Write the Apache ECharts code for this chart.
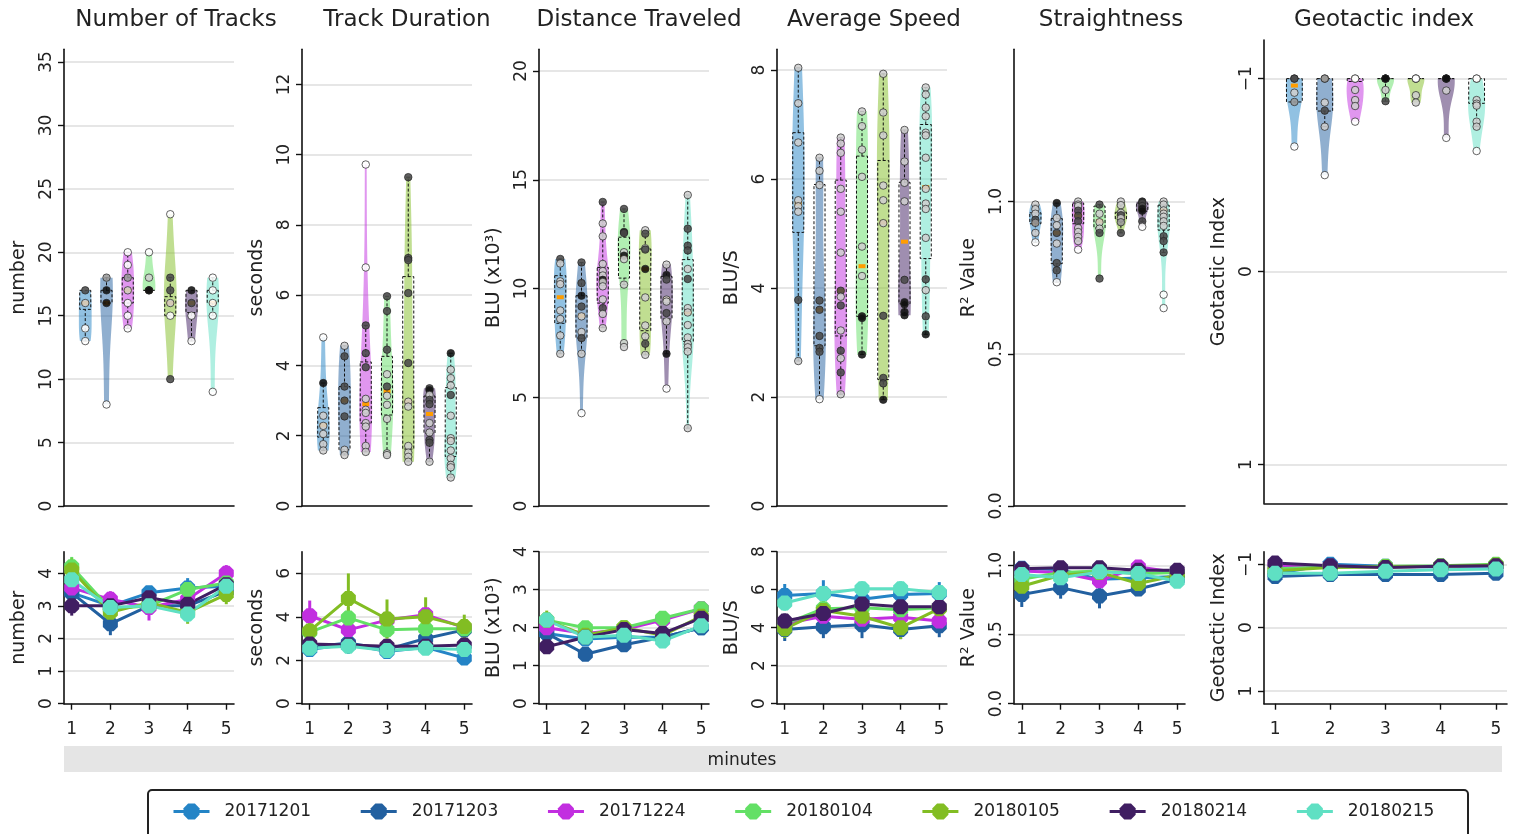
<!DOCTYPE html>
<html><head><meta charset="utf-8">
<script src="https://cdn.jsdelivr.net/npm/echarts@6/dist/echarts.min.js"></script>
<style>html,body{margin:0;padding:0;background:#fff}#c{width:1517px;height:834px}</style>
</head><body><div id="c"></div><script>
// ---------- categories / labels ----------
const groups = ['20171201','20171203','20171224','20180104','20180105','20180214','20180215'];
const colors = ['#2484c6','#2260a0','#c22ee0','#63e065','#82bd23','#401e62','#5fe0c3'];
const minutes = [1,2,3,4,5];
const titles = ['Number of Tracks','Track Duration','Distance Traveled','Average Speed','Straightness','Geotactic index'];
const yNames = ['number','seconds','BLU (x10\u00b3)','BLU/S','R\u00b2 Value','Geotactic Index'];
const shadeColors = ['#ffffff','#cfcfcf','#9a9a9a','#4a4a4a','#111111'];

// tick labels
const tracksTicks = [0,5,10,15,20,25,30,35];
const durationTicks = [0,2,4,6,8,10,12];
const distanceTicks = [0,5,10,15,20];
const speedTicks = [0,2,4,6,8];
const straightTicks = [0,0.5,1.0];
const geoTicks = [-1,0,1];
const tracksMinTicks = [0,1,2,3,4];
const durationMinTicks = [0,2,4,6];
const distanceMinTicks = [0,1,2,3,4];
const speedMinTicks = [0,2,4,6,8];

// ---------- top row: per-group points [value, shade] ----------
const tracksPts = [
 [[17,3],[16,1],[14,0],[13,0]],
 [[18,2],[17,4],[16,4],[8,0]],
 [[20,0],[19,0],[18,2],[17,1],[16,0],[15,0],[14,0]],
 [[20,0],[18,1],[17,4],[17,4]],
 [[23,0],[18,3],[17,3],[16,1],[15,0],[10,3]],
 [[17,4],[16,3],[15,0],[13,0]],
 [[18,0],[17,0],[16,0],[15,0],[9,0]]];
const durationPts = [
 [[4.8,0],[3.5,4],[2.57,1],[2.28,1],[2.05,1],[1.76,1],[1.58,1]],
 [[4.56,1],[4.26,3],[3.4,3],[3.0,3],[2.55,3],[1.6,1],[1.45,1]],
 [[9.72,0],[6.79,0],[5.14,3],[4.35,3],[3.95,3],[3.05,1],[2.74,1],[2.65,1],[2.36,1],[2.26,1],[1.71,1],[1.54,1]],
 [[5.97,3],[5.55,3],[4.45,3],[3.75,1],[3.4,3],[3.14,1],[2.88,1],[2.48,1],[1.5,1],[1.45,1]],
 [[9.36,3],[7.06,3],[7.0,3],[6.06,3],[4.07,3],[2.97,1],[2.83,1],[1.71,1],[1.52,1],[1.4,1],[1.26,1]],
 [[3.35,3],[3.3,4],[3.16,1],[3.02,3],[2.9,3],[2.36,1],[2.09,1],[1.88,3],[1.8,3],[1.26,1]],
 [[4.35,4],[3.88,1],[3.64,1],[3.43,1],[3.16,3],[2.57,1],[1.93,1],[1.85,1],[1.58,1],[1.36,1],[1.17,1],[1.1,1],[0.81,1]]];
const distancePts = [
 [[11.36,3],[11.15,1],[10.33,1],[10.2,1],[8.99,1],[8.6,1],[7.84,1],[7.0,1]],
 [[11.2,3],[10.25,3],[9.67,4],[9.17,3],[8.72,1],[8.0,1],[7.72,3],[7.0,1],[4.27,0]],
 [[13.98,3],[12.99,1],[12.4,1],[11.13,1],[10.8,1],[10.6,1],[10.4,4],[10.3,1],[10.1,1],[9.5,1],[9.1,3],[8.83,1],[8.18,1]],
 [[13.66,3],[12.6,4],[12.55,3],[11.67,1],[11.51,4],[11.35,1],[10.18,1],[7.49,1],[7.31,1]],
 [[12.68,1],[12.52,3],[11.85,1],[11.79,3],[10.9,4],[9.59,1],[8.3,1],[7.8,1],[7.46,3],[6.95,1]],
 [[11.1,1],[10.62,4],[10.41,3],[9.49,1],[9.4,1],[8.87,3],[8.49,1],[7.0,4],[5.4,0]],
 [[14.3,1],[12.75,3],[11.97,3],[11.75,3],[10.9,1],[10.44,3],[9.1,1],[8.9,1],[8.32,1],[7.75,1],[7.45,1],[7.3,1],[7.1,1],[3.58,1]]];
const speedPts = [
 [[8.04,1],[7.39,1],[6.67,1],[5.61,1],[5.5,1],[5.4,1],[3.78,3],[2.66,1]],
 [[6.39,1],[6.15,1],[5.89,1],[3.77,3],[3.6,3],[3.12,3],[2.9,3],[2.83,3],[1.96,0]],
 [[6.76,1],[6.65,1],[6.48,1],[5.82,1],[5.4,1],[4.65,1],[3.95,3],[3.84,1],[3.68,3],[3.22,1],[2.85,3],[2.71,1],[2.45,3],[2.05,1]],
 [[7.24,1],[6.97,1],[6.54,1],[6.04,1],[4.76,1],[4.22,1],[3.48,4],[3.45,4],[2.78,4]],
 [[7.93,1],[7.22,1],[6.8,1],[5.88,1],[5.61,1],[5.19,1],[3.49,3],[2.35,3],[2.25,3],[1.95,4]],
 [[6.9,1],[6.32,1],[5.93,1],[5.59,1],[4.15,3],[3.74,4],[3.7,4],[3.56,4],[3.5,4]],
 [[7.68,1],[7.55,1],[7.31,1],[7.15,1],[6.85,1],[6.8,1],[6.39,1],[5.82,1],[5.55,1],[5.45,1],[4.92,1],[4.16,3],[3.96,1],[3.48,3],[3.15,4]]];
const straightPts = [
 [[0.99,1],[0.975,1],[0.96,1],[0.94,3],[0.93,2],[0.897,1],[0.866,0]],
 [[0.995,4],[0.946,1],[0.922,1],[0.897,3],[0.862,1],[0.798,3],[0.774,3],[0.735,0]],
 [[1.0,1],[0.99,1],[0.985,1],[0.97,3],[0.953,3],[0.935,3],[0.913,1],[0.9,1],[0.884,1],[0.87,1],[0.842,0]],
 [[0.99,3],[0.96,1],[0.932,1],[0.911,1],[0.897,3],[0.747,3]],
 [[1.0,1],[0.988,1],[0.963,1],[0.955,3],[0.945,1],[0.932,2],[0.897,3]],
 [[1.0,4],[0.995,3],[0.985,3],[0.976,4],[0.97,4],[0.935,3],[0.917,0]],
 [[1.0,1],[0.99,1],[0.971,1],[0.96,1],[0.95,1],[0.935,1],[0.92,1],[0.886,3],[0.87,3],[0.833,3],[0.694,0],[0.65,0]]];
const geoPts = [
 [[-1,3],[-1,3],[-0.927,1],[-0.879,2],[-0.648,0]],
 [[-1,2],[-1,2],[-0.876,1],[-0.834,3],[-0.751,1],[-0.5,0]],
 [[-1,0],[-1,0],[-0.941,1],[-0.889,1],[-0.858,1],[-0.777,0]],
 [[-1,4],[-1,4],[-1,4],[-0.941,1],[-0.883,3]],
 [[-1,0],[-1,0],[-1,0],[-0.914,1],[-0.876,1]],
 [[-1,4],[-1,4],[-1,4],[-0.938,1],[-0.693,0]],
 [[-1,0],[-1,0],[-0.889,1],[-0.87,1],[-0.86,1],[-0.777,1],[-0.751,1],[-0.625,0]]];

// box stats [lower whisker, Q1, Q3, upper whisker] and means
const tracksBox = [[13,15.5,17,17],[16,16,17,18],[14,16,18,20],[17,17,17,17],[15,15,16.5,18],[13,15.25,17,17],[15,16,17,18]];
const durationBox = [[1.58,1.96,2.8,3.5],[1.45,1.6,3.4,4.56],[1.54,2.36,4.1,5.14],[1.45,2.59,4.26,5.97],[1.26,1.62,6.53,9.36],[1.26,2.07,3.13,3.35],[0.81,1.41,3.37,4.35]];
const distanceBox = [[7.0,8.4,10.59,11.36],[7.0,7.72,9.67,11.2],[8.2,9.33,10.97,13.98],[10.18,10.48,12.36,13.66],[6.95,8.06,11.82,12.68],[7.0,8.6,10.56,11.1],[3.58,7.57,11.33,14.3]];
const speedBox = [[2.66,5.02,6.85,8.04],[1.96,2.94,5.9,6.39],[2.05,3.12,5.98,6.76],[2.78,3.48,6.42,7.24],[1.95,2.32,6.34,7.93],[3.5,3.71,5.94,6.9],[3.15,4.54,7.0,7.68]];
const straightBox = [[0.866,0.927,0.963,0.99],[0.735,0.796,0.944,0.995],[0.87,0.927,0.995,1.0],[0.897,0.913,0.985,0.99],[0.897,0.941,0.965,1.0],[0.935,0.968,0.995,1.0],[0.833,0.906,0.988,1.0]];
const geoBox = [[-1,-1,-0.879,-0.879],[-1,-1,-0.832,-0.751],[-1,-1,-0.985,-0.985],[-1,-1,-1,-0.883],[-1,-1,-1,-1],[-1,-1,-1,-1],[-1,-1,-0.872,-0.751]];
const tracksMean = [16,16,17,17,16,16,16];
const durationMean = [2.3,3.0,2.9,3.27,2.97,2.62,1.9];
const distanceMean = [9.6,8.75,10.4,11.45,10.9,9.5,8.9];
const speedMean = [5.55,3.6,3.95,4.4,5.2,4.85,5.85];
const straightMean = [0.93,0.897,0.955,0.935,0.95,0.975,0.971];
const geoMean = [-0.964,-1,-1,-1,-1,-1,-1];

// ---------- bottom row: per-minute means and error (one row per group) ----------
const tracksMin = [[3.4,3.0,3.4,3.55,3.6],[3.4,2.45,3.0,3.0,3.45],[3.55,3.2,2.95,3.2,4.0],[4.2,2.9,3.0,3.5,3.7],[4.1,2.8,3.1,2.8,3.35],[3.0,3.0,3.25,3.05,3.65],[3.8,2.95,3.0,2.75,3.6]];
const tracksErr = [[0.25,0.25,0.2,0.3,0.25],[0.3,0.35,0.25,0.25,0.3],[0.3,0.25,0.4,0.3,0.25],[0.3,0.25,0.25,0.25,0.25],[0.35,0.3,0.3,0.35,0.3],[0.3,0.25,0.25,0.25,0.3],[0.25,0.25,0.25,0.25,0.25]];
const durationMin = [[2.5,2.75,2.4,2.6,2.1],[2.6,2.8,2.5,3.0,3.4],[4.05,3.4,3.85,4.1,3.5],[3.3,3.95,3.4,3.45,3.45],[3.35,4.85,3.9,4.0,3.55],[2.75,2.7,2.65,2.65,2.7],[2.55,2.65,2.45,2.55,2.5]];
const durationErr = [[0.3,0.3,0.3,0.3,0.2],[0.4,0.5,0.4,0.4,0.4],[0.7,0.4,0.4,0.3,0.3],[0.4,0.5,0.4,0.4,0.3],[0.4,1.15,0.9,0.9,0.55],[0.3,0.3,0.3,0.3,0.3],[0.3,0.3,0.3,0.3,0.3]];
const distanceMin = [[1.85,1.7,1.75,1.75,2.0],[1.85,1.3,1.55,1.75,2.0],[2.0,1.85,1.95,2.2,2.5],[2.2,2.0,2.0,2.25,2.5],[2.2,1.8,2.0,1.8,2.3],[1.5,1.75,1.95,1.85,2.25],[2.2,1.75,1.8,1.65,2.05]];
const distanceErr = [[0.15,0.15,0.15,0.15,0.15],[0.15,0.15,0.12,0.15,0.15],[0.15,0.12,0.12,0.12,0.15],[0.15,0.12,0.12,0.12,0.15],[0.25,0.15,0.15,0.15,0.15],[0.15,0.15,0.15,0.15,0.15],[0.15,0.12,0.12,0.12,0.15]];
const speedMin = [[5.7,5.8,5.5,5.75,5.8],[3.9,4.05,4.15,3.9,4.1],[4.2,4.6,4.45,4.55,4.35],[4.2,5.0,5.05,4.95,5.05],[3.95,4.9,4.6,4.0,5.0],[4.35,4.75,5.25,5.1,5.1],[5.3,5.8,6.05,6.05,5.85]];
const speedErr = [[0.6,0.7,0.5,0.5,0.6],[0.6,0.6,0.7,0.5,0.6],[0.4,0.4,0.4,0.4,0.4],[0.4,0.4,0.4,0.4,0.4],[0.5,0.4,0.4,0.6,0.4],[0.4,0.4,0.4,0.4,0.4],[0.4,0.4,0.4,0.4,0.4]];
const straightMin = [[0.98,0.97,0.9,0.91,0.92],[0.79,0.84,0.78,0.83,0.9],[0.96,0.95,0.89,0.99,0.95],[0.9,0.95,0.96,0.94,0.95],[0.85,0.93,0.95,0.87,0.93],[0.976,0.983,0.983,0.966,0.966],[0.935,0.911,0.954,0.942,0.886]];
const straightErr = [[0.03,0.03,0.03,0.03,0.03],[0.09,0.08,0.09,0.03,0.03],[0.03,0.03,0.03,0.03,0.03],[0.03,0.03,0.03,0.03,0.03],[0.04,0.03,0.03,0.03,0.03],[0.02,0.02,0.02,0.02,0.02],[0.03,0.03,0.03,0.03,0.03]];
const geoMin = [[-0.85,-1.0,-0.97,-0.96,-0.97],[-0.81,-0.84,-0.84,-0.84,-0.86],[-0.98,-0.97,-0.96,-0.97,-0.98],[-0.93,-0.96,-0.97,-0.98,-1.0],[-0.9,-0.95,-0.96,-0.97,-0.99],[-1.02,-0.98,-0.95,-0.97,-0.98],[-0.86,-0.86,-0.89,-0.915,-0.925]];
const geoErr = [[0.03,0.03,0.03,0.03,0.03],[0.03,0.03,0.03,0.03,0.03],[0.02,0.02,0.02,0.02,0.02],[0.03,0.03,0.03,0.03,0.03],[0.03,0.03,0.03,0.03,0.03],[0.02,0.02,0.02,0.02,0.02],[0.03,0.03,0.03,0.03,0.03]];

// ---------- assembly ----------
const metrics = [
 {pts:tracksPts, box:tracksBox, mean:tracksMean, line:tracksMin, err:tracksErr},
 {pts:durationPts, box:durationBox, mean:durationMean, line:durationMin, err:durationErr},
 {pts:distancePts, box:distanceBox, mean:distanceMean, line:distanceMin, err:distanceErr},
 {pts:speedPts, box:speedBox, mean:speedMean, line:speedMin, err:speedErr},
 {pts:straightPts, box:straightBox, mean:straightMean, line:straightMin, err:straightErr},
 {pts:geoPts, box:geoBox, mean:geoMean, line:geoMin, err:geoErr}];

const topScale = [{min:0,max:36,ticks:tracksTicks},{min:0,max:13,ticks:durationTicks},{min:0,max:21,ticks:distanceTicks},{min:0,max:8.38,ticks:speedTicks},{min:0,max:1.5,ticks:straightTicks,dec:1},{min:-1.2,max:1.2,ticks:geoTicks,inverse:true}];
const botScale = [{min:0,max:4.66,ticks:tracksMinTicks},{min:0,max:7,ticks:durationMinTicks},{min:0,max:4,ticks:distanceMinTicks},{min:0,max:8,ticks:speedMinTicks},{min:0,max:1.1,ticks:straightTicks,dec:1},{min:-1.2,max:1.2,ticks:geoTicks,inverse:true}];
const colX = [[64,234],[302,472],[539,709],[777,947],[1014,1185],[1264,1507]];
const titleX = [176,407,639,874,1111,1384];

const FONT = 'DejaVu Sans';
const TXT = '#222';
const OCT = 'path://M29,0L71,0L100,29L100,71L71,100L29,100L0,71L0,29Z';

function kde(vals, lo, hi, n) {
  const N = vals.length;
  const mu = vals.reduce((a,b)=>a+b,0)/N;
  const sd = Math.sqrt(vals.reduce((a,b)=>a+(b-mu)*(b-mu),0)/Math.max(1,N-1));
  if (!(sd > 0) || hi <= lo) return null;
  const bw = sd * Math.pow(N, -0.2);
  const out = []; let mx = 0;
  for (let i = 0; i <= n; i++) {
    const y = lo + (hi-lo)*i/n; let d = 0;
    for (const v of vals) { const z = (y-v)/bw; d += Math.exp(-0.5*z*z); }
    out.push([y,d]); if (d > mx) mx = d;
  }
  return out.map(([y,d]) => [y, d/mx]);
}

function violinRender(mi) {
  const m = metrics[mi];
  const vHalf = mi === 5 ? 0.28 : 0.3, bHalf = 0.26, cap = 0.1;
  return function(params, api) {
    const x = api.value(0), g = api.value(1);
    const vals = m.pts[g].map(p => p[0]);
    const lo = Math.min(...vals), hi = Math.max(...vals);
    const ch = [];
    const dens = kde(vals, lo, hi, 80);
    if (dens) {
      const L = [], R = [];
      dens.forEach(([y,d]) => { L.push(api.coord([x - d*vHalf, y])); R.push(api.coord([x + d*vHalf, y])); });
      ch.push({type:'polygon', shape:{points: L.concat(R.reverse())}, style:{fill: colors[g], opacity: 0.5}});
    }
    const mc = api.coord([x, m.mean[g]]);
    ch.push({type:'rect', shape:{x: mc[0]-3.5, y: mc[1]-2, width: 7, height: 4}, style:{fill:'#ff9d00'}});
    const [lw,q1,q3,hw] = m.box[g];
    const a = api.coord([x - bHalf, q3]), b = api.coord([x + bHalf, q1]);
    const dash = {stroke:'#111', lineWidth:1, lineDash:[3,2], fill:null};
    ch.push({type:'rect', shape:{x: Math.min(a[0],b[0]), y: Math.min(a[1],b[1]), width: Math.abs(b[0]-a[0]), height: Math.abs(b[1]-a[1])}, style: dash});
    const seg = (v1, v2) => { const p1 = api.coord([x, v1]), p2 = api.coord([x, v2]); return {type:'line', shape:{x1:p1[0],y1:p1[1],x2:p2[0],y2:p2[1]}, style: dash}; };
    const capLine = v => { const p1 = api.coord([x-cap, v]), p2 = api.coord([x+cap, v]); return {type:'line', shape:{x1:p1[0],y1:p1[1],x2:p2[0],y2:p2[1]}, style:{stroke:'#111', lineWidth:1}}; };
    if (hw !== q3) { ch.push(seg(q3, hw)); ch.push(capLine(hw)); }
    if (lw !== q1) { ch.push(seg(lw, q1)); ch.push(capLine(lw)); }
    return {type:'group', children: ch};
  };
}

function fmt(dec) { return v => (dec ? Number(v).toFixed(dec) : String(Math.round(v*100)/100)).replace('-', '\u2212'); }

function yAxisCfg(gi, sc, name) {
  return {
    type:'value', gridIndex: gi, min: sc.min, max: sc.max, inverse: !!sc.inverse,
    name: name, nameLocation:'middle', nameGap: 35, nameRotate: 90,
    nameTextStyle:{fontSize:19, color:TXT, fontFamily:FONT},
    axisLine:{show:true, onZero:false, lineStyle:{color:'#111', width:1.6}},
    axisTick:{show:true, length:6, customValues: sc.ticks, lineStyle:{color:'#111', width:1.4}},
    axisLabel:{rotate:90, fontSize:17, color:TXT, fontFamily:FONT, margin:9, customValues: sc.ticks, formatter: fmt(sc.dec)},
    splitLine:{show:true, customValues: sc.ticks, lineStyle:{color:'#e6e6e6', width:2}}
  };
}

const grid = [], xAxis = [], yAxis = [], series = [];
for (let i = 0; i < 6; i++) {
  const [x0, x1] = colX[i];
  grid.push(i < 5 ? {left:x0, width:x1-x0, top:49.3, height:456.7} : {left:x0, width:x1-x0, top:40, height:463.3});
}
for (let i = 0; i < 6; i++) {
  const [x0, x1] = colX[i];
  grid.push({left:x0, width:x1-x0, top:551.7, height:152});
}
for (let i = 0; i < 6; i++) {
  xAxis.push({type:'value', gridIndex:i, min:0, max:8, axisLine:{show:true, onZero:false, lineStyle:{color:'#111', width:1.6}}, axisTick:{show:false}, axisLabel:{show:false}, splitLine:{show:false}});
  yAxis.push(yAxisCfg(i, topScale[i], yNames[i]));
}
for (let i = 0; i < 6; i++) {
  xAxis.push({type:'value', gridIndex:6+i, min:0.8, max:5.2,
    axisLine:{show:true, onZero:false, lineStyle:{color:'#111', width:1.6}},
    axisTick:{show:true, length:6, customValues: minutes, lineStyle:{color:'#111', width:1.4}},
    axisLabel:{customValues: minutes, fontSize:17, color:TXT, fontFamily:FONT, margin:17},
    splitLine:{show:false}});
  yAxis.push(yAxisCfg(6+i, botScale[i], yNames[i]));
}

for (let i = 0; i < 6; i++) {
  const m = metrics[i];
  series.push({type:'custom', xAxisIndex:i, yAxisIndex:i, silent:true, z:2,
    data: groups.map((g,k) => [k+1, k]), renderItem: violinRender(i)});
  const pts = [];
  m.pts.forEach((arr, k) => arr.forEach(p => pts.push([k+1, p[0], p[1]])));
  series.push({type:'scatter', xAxisIndex:i, yAxisIndex:i, silent:true, z:3, data: pts, symbolSize:7.5,
    itemStyle:{color: p => shadeColors[p.data[2]], borderColor:'#222', borderWidth:0.8, opacity:0.88}});
  groups.forEach((g, s) => {
    series.push({type:'custom', name: g + ' sem', xAxisIndex:6+i, yAxisIndex:6+i, silent:true, z:2,
      data: minutes.map((mm,k) => [mm, m.line[s][k], m.err[s][k]]),
      renderItem: (p, api) => { const x = api.value(0), v = api.value(1), e = api.value(2);
        const p1 = api.coord([x, v-e]), p2 = api.coord([x, v+e]);
        return {type:'line', shape:{x1:p1[0],y1:p1[1],x2:p2[0],y2:p2[1]}, style:{stroke: colors[s], lineWidth:3}}; }});
    series.push({type:'line', name: g, xAxisIndex:6+i, yAxisIndex:6+i, silent:true, z:2,
      data: minutes.map((mm,k) => [mm, m.line[s][k]]),
      symbol: OCT, symbolSize: 15, showSymbol: true,
      lineStyle:{width:3, color: colors[s]}, itemStyle:{color: colors[s], borderWidth:0}});
  });
}

const graphic = titles.map((t, i) => ({type:'text', x: titleX[i], y: 20,
  style:{text:t, fontSize:23, fontFamily:FONT, fill:TXT, textAlign:'center', textVerticalAlign:'middle'}}));
graphic.push({type:'rect', shape:{x:64, y:746, width:1438, height:26}, style:{fill:'#e5e5e5'}, z:-1});
graphic.push({type:'text', x:742, y:761, style:{text:'minutes', fontSize:17, fontFamily:FONT, fill:TXT, textAlign:'center', textVerticalAlign:'middle'}});
graphic.push({type:'rect', shape:{x:148, y:790, width:1320, height:60, r:4}, style:{fill:null, stroke:'#222', lineWidth:2}});

const chart = echarts.init(document.getElementById('c'));
chart.setOption({
  animation:false,
  textStyle:{fontFamily:FONT},
  grid, xAxis, yAxis, series, graphic,
  legend:{data: groups, left:172, top:803, itemWidth:36, itemHeight:20, itemGap:48.2, padding:0, selectedMode:false,
    lineStyle:{width:3},
    textStyle:{fontSize:17, color:TXT, fontFamily:FONT, padding:[0,0,0,10]}}
});
</script></body></html>
